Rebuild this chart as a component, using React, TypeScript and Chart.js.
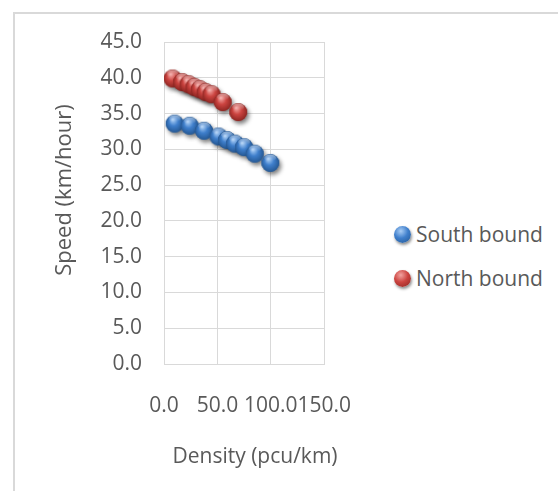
import React, { useEffect, useRef } from "react";
import { Chart, registerables } from "chart.js";

Chart.register(...registerables);

const SOUTH_DENSITY = [10, 24, 37.5, 51, 59, 66.5, 75, 85, 99.5];
const SOUTH_SPEED = [33.6, 33.3, 32.6, 31.8, 31.3, 30.8, 30.3, 29.4, 28.1];
const NORTH_DENSITY = [8, 17, 23, 28.5, 33.5, 39, 44.5, 55, 69.5];
const NORTH_SPEED = [39.9, 39.4, 39.1, 38.7, 38.4, 38.0, 37.7, 36.6, 35.2];
const SERIES_NAMES = ["South bound", "North bound"];
const X_TITLE = "Density (pcu/km)";
const Y_TITLE = "Speed (km/hour)";
const X_TICKS = [0, 50, 100, 150];
const Y_TICKS = [0, 5, 10, 15, 20, 25, 30, 35, 40, 45];

const TEXT = "#595959";
const GRID = "#d9d9d9";
const FONT = '"Open Sans", sans-serif';

function sphere(light: string, base: string, dark: string) {
  const c = document.createElement("canvas");
  c.width = 32;
  c.height = 32;
  const g = c.getContext("2d")!;
  g.save();
  g.shadowColor = "rgba(0,0,0,0.5)";
  g.shadowBlur = 4;
  g.shadowOffsetX = 2;
  g.shadowOffsetY = 3;
  g.beginPath();
  g.arc(16, 16, 9, 0, Math.PI * 2);
  g.fillStyle = dark;
  g.fill();
  g.restore();
  const grad = g.createRadialGradient(14, 12, 0.5, 16, 16, 9.5);
  grad.addColorStop(0, light);
  grad.addColorStop(0.45, base);
  grad.addColorStop(1, dark);
  g.beginPath();
  g.arc(16, 16, 9, 0, Math.PI * 2);
  g.fillStyle = grad;
  g.fill();
  const hl = g.createLinearGradient(0, 7, 0, 14);
  hl.addColorStop(0, "rgba(255,255,255,0.55)");
  hl.addColorStop(1, "rgba(255,255,255,0)");
  g.beginPath();
  g.ellipse(16, 11, 6, 3.5, 0, 0, Math.PI * 2);
  g.fillStyle = hl;
  g.fill();
  return c;
}

const axisTitles = {
  id: "axisTitles",
  afterDraw(chart: any) {
    const { ctx, chartArea } = chart;
    ctx.save();
    ctx.fillStyle = TEXT;
    ctx.textAlign = "center";
    ctx.textBaseline = "middle";
    ctx.font = `21px ${FONT}`;
    ctx.fillText(X_TITLE, chartArea.left + 91, chartArea.bottom + 93);
    ctx.font = `22px ${FONT}`;
    ctx.translate(chartArea.left - 99, chartArea.top + 148);
    ctx.rotate(-Math.PI / 2);
    ctx.fillText(Y_TITLE, 0, 0);
    ctx.restore();
  },
};

function LegendItem({ label, light, base, dark }: any) {
  return (
    <div style={{ display: "flex", alignItems: "center", height: 44 }}>
      <span
        style={{
          display: "inline-block",
          width: 17,
          height: 17,
          borderRadius: "50%",
          background: `radial-gradient(circle at 40% 30%, ${light} 0%, ${base} 45%, ${dark} 100%)`,
          boxShadow: "1px 2px 3px rgba(0,0,0,0.45)",
          marginRight: 5,
        }}
      />
      <span style={{ fontSize: 21, color: TEXT, fontFamily: FONT, whiteSpace: "nowrap" }}>{label}</span>
    </div>
  );
}

export default function App() {
  const ref = useRef<HTMLCanvasElement>(null);
  useEffect(() => {
    const blue = sphere("#a9cdf5", "#3f7fcc", "#23558f");
    const red = sphere("#f2a3a0", "#cc4440", "#8a2420");
    const chart = new Chart(ref.current!, {
      type: "scatter",
      data: {
        datasets: [
          {
            label: SERIES_NAMES[0],
            data: SOUTH_DENSITY.map((x, i) => ({ x, y: SOUTH_SPEED[i] })),
            pointStyle: blue as any,
            backgroundColor: "#3f7fcc",
          },
          {
            label: SERIES_NAMES[1],
            data: NORTH_DENSITY.map((x, i) => ({ x, y: NORTH_SPEED[i] })),
            pointStyle: red as any,
            backgroundColor: "#cc4440",
          },
        ],
      },
      options: {
        responsive: false,
        animation: false,
        layout: { padding: { top: 42, right: 52, left: 0, bottom: 0 } },
        plugins: { legend: { display: false }, tooltip: { enabled: false } },
        scales: {
          x: {
            type: "linear",
            min: 0,
            max: 150,
            afterBuildTicks: (s: any) => {
              s.ticks = X_TICKS.map((v) => ({ value: v }));
            },
            afterFit: (s: any) => {
              s.height = 127;
            },
            grid: { color: GRID, lineWidth: 1, drawTicks: false },
            border: { color: GRID },
            ticks: {
              autoSkip: false,
              maxRotation: 0,
              minRotation: 0,
              padding: 29,
              color: TEXT,
              font: { family: FONT, size: 21 },
              callback: (v: any) => Number(v).toFixed(1),
            },
          },
          y: {
            type: "linear",
            min: 0,
            max: 45,
            afterBuildTicks: (s: any) => {
              s.ticks = Y_TICKS.map((v) => ({ value: v }));
            },
            afterFit: (s: any) => {
              s.width = 164;
            },
            grid: { color: GRID, lineWidth: 1, drawTicks: false },
            border: { color: GRID },
            ticks: {
              padding: 22,
              color: TEXT,
              font: { family: FONT, size: 21 },
              callback: (v: any) => Number(v).toFixed(1),
            },
          },
        },
      },
      plugins: [axisTitles],
    });
    return () => chart.destroy();
  }, []);

  return (
    <div
      style={{
        position: "absolute",
        left: 0,
        top: 0,
        width: 558,
        height: 491,
        background: "#fff",
        overflow: "hidden",
      }}
    >
      <div
        style={{
          position: "absolute",
          left: 13,
          top: 12,
          width: 700,
          height: 700,
          borderTop: `2px solid ${GRID}`,
          borderLeft: `2px solid ${GRID}`,
        }}
      />
      <canvas ref={ref} width={380} height={491} style={{ position: "absolute", left: 0, top: 0 }} />
      <div style={{ position: "absolute", left: 394, top: 212 }}>
        <LegendItem label={SERIES_NAMES[0]} light="#a9cdf5" base="#3f7fcc" dark="#23558f" />
        <LegendItem label={SERIES_NAMES[1]} light="#f2a3a0" base="#cc4440" dark="#8a2420" />
      </div>
    </div>
  );
}
